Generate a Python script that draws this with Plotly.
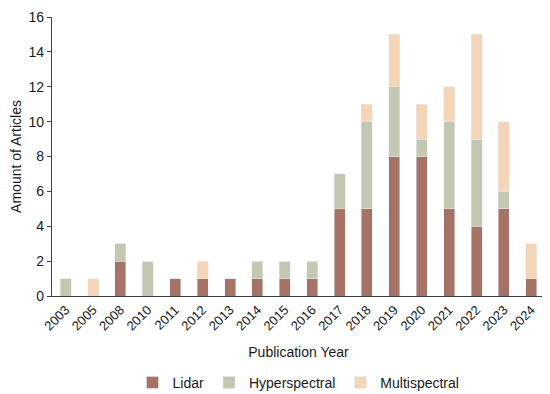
import plotly.graph_objects as go

years = ["2003", "2005", "2008", "2010", "2011", "2012", "2013", "2014", "2015",
         "2016", "2017", "2018", "2019", "2020", "2021", "2022", "2023", "2024"]
lidar = [0, 0, 2, 0, 1, 1, 1, 1, 1, 1, 5, 5, 8, 8, 5, 4, 5, 1]
hyperspectral = [1, 0, 1, 2, 0, 0, 0, 1, 1, 1, 2, 5, 4, 1, 5, 5, 1, 0]
multispectral = [0, 1, 0, 0, 0, 1, 0, 0, 0, 0, 0, 1, 3, 2, 2, 6, 4, 2]
y_ticks = [0, 2, 4, 6, 8, 10, 12, 14, 16]

fig = go.Figure()
fig.add_trace(go.Bar(x=years, y=lidar, name="Lidar", marker_color="#A47365"))
fig.add_trace(go.Bar(x=years, y=hyperspectral, name="Hyperspectral", marker_color="#C4C8B3"))
fig.add_trace(go.Bar(x=years, y=multispectral, name="Multispectral", marker_color="#F5D5B8"))

font = "Liberation Sans, Arial, sans-serif"
fig.update_layout(
    barmode="stack",
    bargap=0.6,
    width=542, height=386,
    margin=dict(l=44, r=5, t=9, b=98, autoexpand=False),
    plot_bgcolor="white", paper_bgcolor="white",
    font=dict(family=font, size=14, color="#1a1a1a"),
    showlegend=True,
    legend=dict(orientation="h", x=0.5, xanchor="center", y=-0.254, yanchor="top",
                font=dict(size=14), itemwidth=30, traceorder="normal"),
    xaxis=dict(
        type="category",
        tickangle=-45,
        tickfont=dict(size=13),
        showline=True, linecolor="#404040", linewidth=1.3,
        ticks="",
        showgrid=False,
        automargin=False,
        title=dict(text="Publication Year", font=dict(size=14), standoff=14),
    ),
    yaxis=dict(
        range=[0, 16],
        tickvals=y_ticks,
        tickfont=dict(size=14),
        showline=True, linecolor="#404040", linewidth=1.3,
        ticks="outside", ticklen=4, tickcolor="#404040",
        showgrid=False, zeroline=False,
        automargin=False,
        ticklabeloverflow="allow",
        title=dict(text="Amount of Articles", font=dict(size=14), standoff=8),
    ),
)

fig.write_html("out.html")
